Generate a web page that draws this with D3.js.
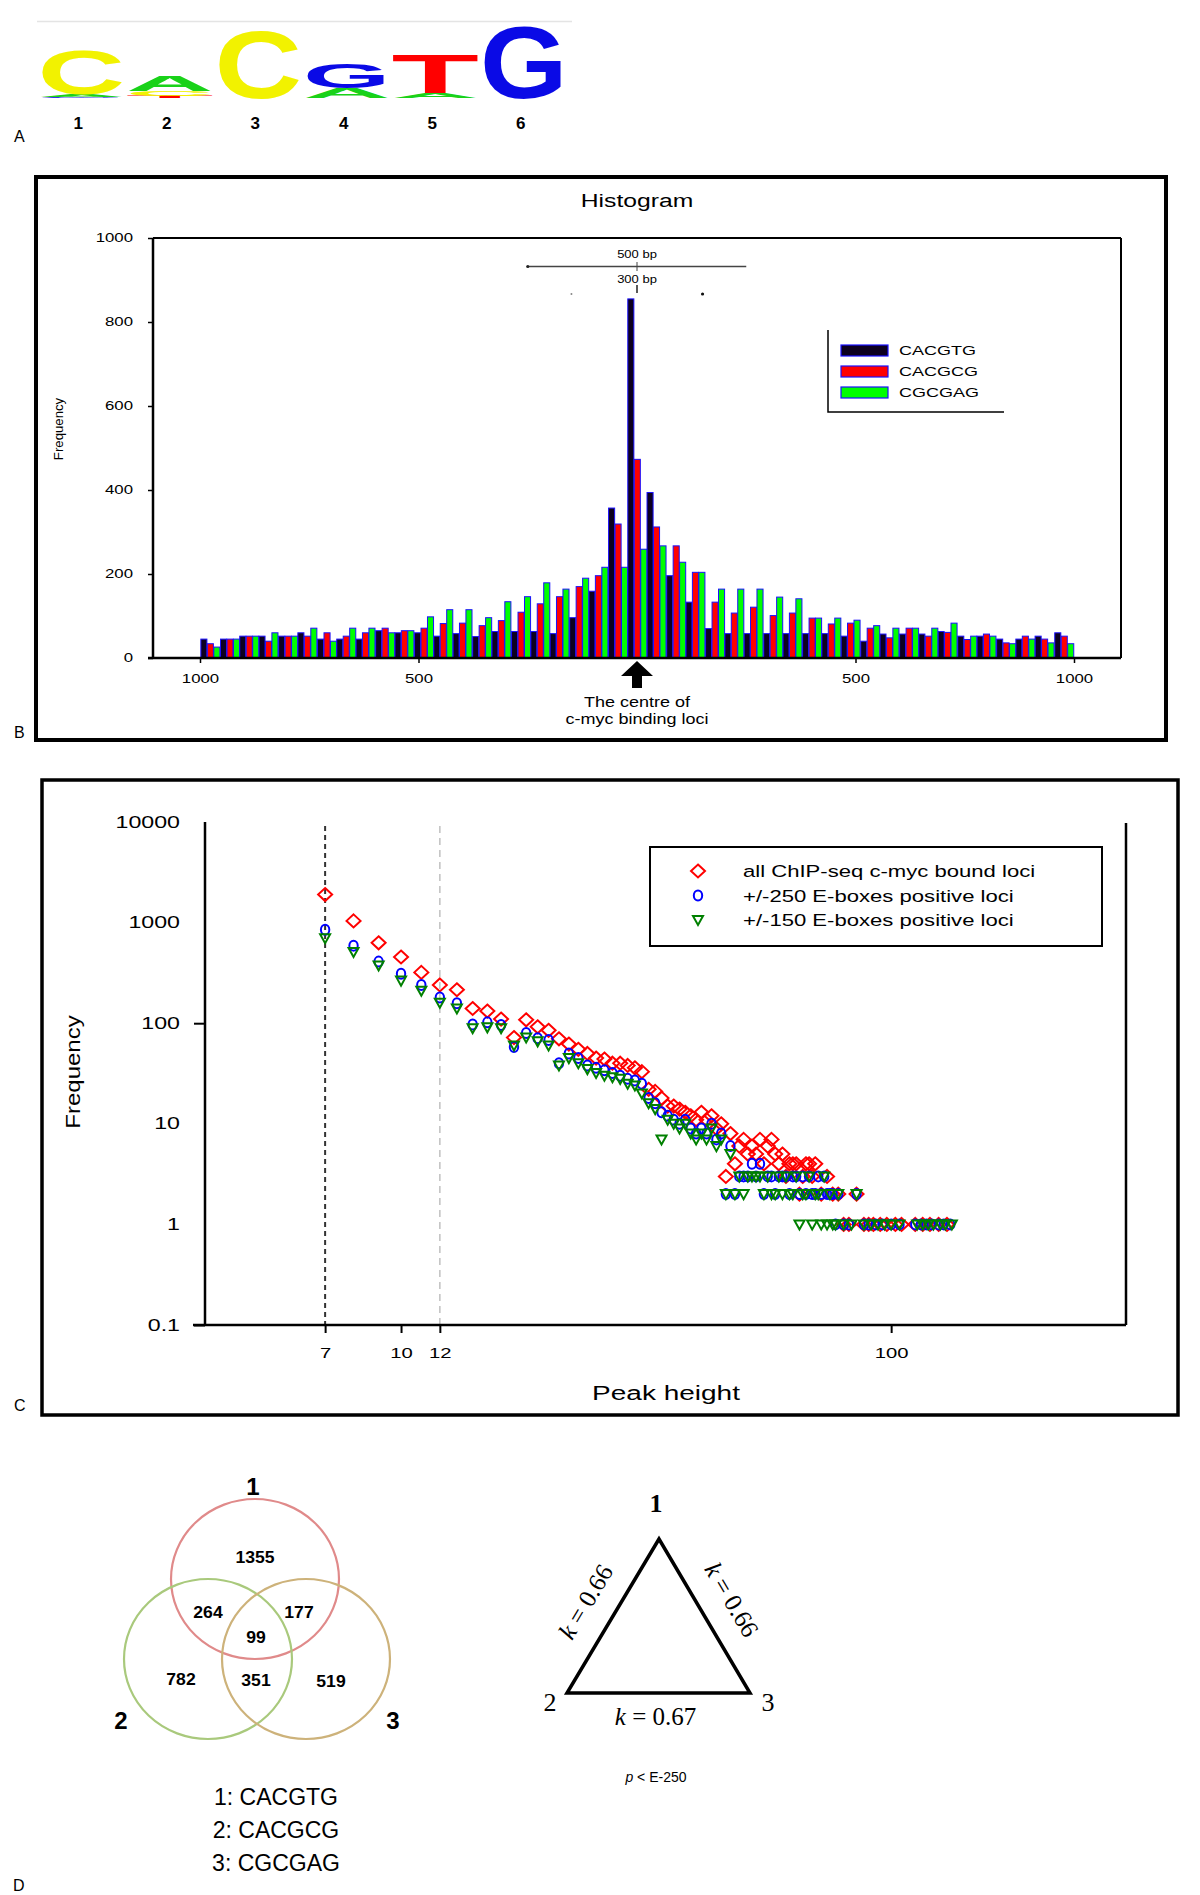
<!DOCTYPE html>
<html><head><meta charset="utf-8">
<script src="https://cdn.jsdelivr.net/npm/d3@7"></script>
<style>body{margin:0;background:#fff}svg{display:block}</style>
</head><body>
<svg id="fig" width="1200" height="1895"></svg>
<script>
// ---------------- DATA ----------------
// Panel A: sequence logo (bits per letter, stacked bottom->top)
const logoPositions = ["1","2","3","4","5","6"];
const logoStacks = [
  [["G",0.04],["A",0.08],["C",1.22]],
  [["T",0.06],["C",0.14],["A",0.43]],
  [["C",1.86]],
  [["A",0.28],["G",0.70]],
  [["A",0.13],["T",1.08]],
  [["G",1.98]]
];
// Panel B: histogram of motif distance to c-myc binding centre
const histBins = [-977,-932,-888,-844,-799,-755,-710,-666,-622,-577,-533,-488,-444,-400,-355,-311,-266,-222,-178,-133,-89,-44,0,44,89,133,178,222,266,311,355,400,444,488,533,577,622,666,710,755,799,844,888,932,977];
const histCACGTG = [45,45,52,52,52,60,45,45,45,65,60,60,52,58,51,63,63,63,58,96,159,357,855,394,196,133,70,58,58,58,58,58,58,52,40,57,57,57,63,52,52,45,45,52,60];
const histCACGCG = [34,45,52,40,52,52,60,52,60,71,65,71,82,83,77,89,109,129,146,170,196,319,473,312,267,204,133,107,121,101,107,95,81,83,71,48,71,52,61,44,57,36,52,45,52];
const histCGCGAG = [26,45,52,60,52,71,40,71,71,60,65,98,115,115,96,134,146,179,164,190,216,216,259,267,228,204,164,164,164,145,141,95,95,90,77,71,71,71,83,52,52,34,45,36,34];
const histSeries = ["CACGTG","CACGCG","CGCGAG"];
const histYTicks = [0,200,400,600,800,1000];
const histXTicks = [-1000,-500,500,1000];
const histXTickLabels = ["1000","500","500","1000"];
// Panel C: frequency vs peak height (log-log)
const allLoci = [[7,1900],[8,1040],[9,630],[10,455],[11,320],[12,240],[13,215],[14,140],[15,132],[16,110],[17,72],[18,108],[19,92],[20,85],[21,70],[22,62],[23,55],[24,50],[25,45],[26,44],[27,40],[28,40],[29,38],[30,36],[31,33],[32,22],[33,21],[34,18],[35,15],[36,15],[37,14],[38,13],[39,12],[40,11],[41,13],[42,11],[43,12],[44,9],[45,10],[46,3],[47,8],[48,4],[49,6],[50,7],[51,5],[52,6],[53,5],[54,7],[55,4],[56,6],[57,7],[58,5],[59,4],[60,5],[61,3],[62,4],[63,4],[64,4],[65,2],[66,3],[67,4],[68,4],[69,3],[70,4],[72,2],[74,3],[76,2],[78,2],[80,1],[82,1],[85,2],[88,1],[90,1],[92,1],[95,1],[98,1],[102,1],[105,1],[112,1],[116,1],[120,1],[125,1],[130,1]];
const eb250 = [[7,850],[8,590],[9,410],[10,310],[11,240],[12,180],[13,158],[14,97],[15,102],[16,96],[17,58],[18,80],[19,71],[20,68],[21,40],[22,50],[23,45],[24,38],[25,36],[26,34],[27,32],[28,30],[29,28],[30,27],[31,25],[32,18],[33,16],[34,13],[35,12],[36,11],[37,10],[38,11],[39,9],[40,8],[41,9],[42,8],[43,10],[44,7],[45,8],[46,2],[47,6],[48,2],[49,3],[50,3],[51,3],[52,4],[53,3],[54,4],[55,2],[56,3],[57,3],[58,2],[59,3],[60,3],[61,3],[62,2],[63,3],[64,3],[65,2],[66,3],[67,2],[68,3],[69,2],[70,2],[71,3],[72,2],[73,3],[74,2],[75,2],[76,2],[77,1],[78,2],[80,1],[82,1],[85,2],[88,1],[90,1],[93,1],[96,1],[100,1],[104,1],[112,1],[115,1],[118,1],[121,1],[125,1],[128,1],[132,1]];
const eb150 = [[7,700],[8,510],[9,375],[10,265],[11,210],[12,160],[13,140],[14,89],[15,91],[16,89],[17,60],[18,72],[19,66],[20,60],[21,38],[22,45],[23,40],[24,35],[25,32],[26,30],[27,29],[28,28],[29,25],[30,24],[31,20],[32,16],[33,14],[34,7],[35,11],[36,10],[37,9],[38,10],[39,8],[40,7],[41,8],[42,7],[43,9],[44,6],[45,7],[46,2],[47,5],[48,2],[49,3],[50,2],[51,3],[52,3],[53,3],[54,3],[55,2],[56,3],[57,2],[58,2],[59,3],[60,2],[61,3],[62,2],[63,2],[64,3],[65,1],[66,2],[67,2],[68,3],[69,1],[70,2],[71,2],[72,1],[73,3],[74,1],[75,2],[76,1],[77,1],[78,2],[80,1],[83,1],[85,2],[88,1],[91,1],[94,1],[97,1],[100,1],[104,1],[113,1],[116,1],[119,1],[122,1],[126,1],[129,1],[133,1]];
const scatterLabels = ["all ChIP-seq c-myc bound loci","+/-250 E-boxes positive loci","+/-150 E-boxes positive loci"];
const scatterYTicks = [0.1,1,10,100,1000,10000];
const scatterYTickLabels = ["0.1","1","10","100","1000","10000"];
const scatterYTickMarks = [0.1,100];
const scatterXTicks = [7,10,12,100];
const cutoffs = [7,12];
// Panel D
const vennSets = ["1","2","3"];
const vennRegions = [["1355","1"],["264","12"],["177","13"],["99","123"],["782","2"],["351","23"],["519","3"]];
const motifNames = ["1: CACGTG","2: CACGCG","3: CGCGAG"];
const kappaEdges = [["1","2","k = 0.66"],["1","3","k = 0.66"],["2","3","k = 0.67"]];
const pValueText = "p < E-250";

// ---------------- HELPERS ----------------
const svg = d3.select("#fig");
const SANS = "'Liberation Sans', Arial, sans-serif";
const SERIF = "'Liberation Serif', 'Times New Roman', serif";
function txt(g, x, y, s, o = {}) {
  let tr = `translate(${x},${y})`;
  if (o.rot) tr += ` rotate(${o.rot})`;
  if (o.sx) tr += ` scale(${o.sx},1)`;
  return g.append("text").attr("transform", tr)
    .attr("text-anchor", o.anchor || "start")
    .attr("font-size", o.size || 14)
    .attr("font-family", o.family || SANS)
    .attr("font-weight", o.weight || "normal")
    .attr("font-style", o.style || "normal")
    .attr("fill", o.fill || "#000")
    .text(s);
}
svg.append("rect").attr("width",1200).attr("height",1895).attr("fill","#fff");

// ---------------- PANEL A: logo ----------------
const gA = svg.append("g");
const logoColor = {A:"#19d219", C:"#f2f200", G:"#0a0ae6", T:"#ff0000"};
const xA = d3.scaleBand().domain(logoPositions).range([37, 568]);
const yA = d3.scaleLinear().domain([0, 2]).range([98, 24]);
gA.append("line").attr("x1",37).attr("x2",572).attr("y1",21.5).attr("y2",21.5).attr("stroke","#e4e4e4").attr("stroke-width",1.5);
logoStacks.forEach((stack, i) => {
  let base = 0;
  stack.forEach(([letter, h]) => {
    const x0 = xA(logoPositions[i]), w = xA.bandwidth();
    const yBot = yA(base), yTop = yA(base + h);
    const t = gA.append("text").attr("font-family", SANS).attr("font-weight","bold")
      .attr("font-size",100).attr("fill", logoColor[letter]).text(letter);
    const adv = t.node().getComputedTextLength();
    const capH = 72;
    const sxL = (w - 1) / adv, syL = (yBot - yTop) / capH;
    t.attr("text-anchor","middle")
     .attr("transform", `translate(${x0 + w/2},${yBot}) scale(${sxL},${syL})`);
    base += h;
  });
});
logoPositions.forEach(p => txt(gA, xA(p) + xA.bandwidth()/2 - 3, 129, p, {anchor:"middle", size:17, weight:"bold"}));
txt(gA, 14, 142, "A", {size:16});

// ---------------- PANEL B: histogram ----------------
const gB = svg.append("g");
gB.append("rect").attr("x",36).attr("y",177).attr("width",1130).attr("height",563)
  .attr("fill","none").attr("stroke","#000").attr("stroke-width",4);
txt(gB, 14, 738, "B", {size:16});
const xB = d3.scaleLinear().domain([-1000, 1000]).range([200, 1074]);
const yB = d3.scaleLinear().domain([0, 1000]).range([658, 238]);
const binW = 44.4;
// frame
gB.append("line").attr("x1",153).attr("x2",1121).attr("y1",238).attr("y2",238).attr("stroke","#000").attr("stroke-width",2);
gB.append("line").attr("x1",1121).attr("x2",1121).attr("y1",238).attr("y2",658).attr("stroke","#000").attr("stroke-width",2);
// bars
const histAll = [histCACGTG, histCACGCG, histCGCGAG];
const barFill = ["#0c0020","#ff0000","#00ff00"];
histAll.forEach((vals, k) => {
  gB.append("g").selectAll("rect").data(histBins).join("rect")
    .attr("x", (c) => xB(c - binW/2) + k * (xB(binW) - xB(0)) / 3 + 0.5)
    .attr("width", (xB(binW) - xB(0)) / 3 - 0.4)
    .attr("y", (c, i) => yB(vals[i]))
    .attr("height", (c, i) => yB(0) - yB(vals[i]))
    .attr("fill", barFill[k]).attr("stroke", "#1a10ff").attr("stroke-width", 1);
});
// axes
const axYB = gB.append("g").attr("transform","translate(153,0)")
  .call(d3.axisLeft(yB).tickValues(histYTicks).tickSize(5).tickFormat(d3.format("d")));
axYB.select(".domain").attr("stroke-width",2.5).attr("d","M0,658V238");
axYB.selectAll(".tick line").attr("stroke-width",1.5);
axYB.selectAll("text").attr("font-family",SANS).attr("font-size",12).attr("x",-20/1.4).attr("transform","scale(1.4,1)");
const axXB = gB.append("g").attr("transform","translate(0,658)")
  .call(d3.axisBottom(xB).tickValues(histXTicks).tickSize(5).tickFormat((d,i)=>histXTickLabels[i]));
axXB.select(".domain").attr("stroke-width",2.5).attr("d","M148,0H1121");
axXB.selectAll(".tick line").attr("stroke-width",1.5);
axXB.selectAll("text").attr("font-family",SANS).attr("font-size",12).attr("y",16).attr("x",0).attr("transform","scale(1.4,1)");
txt(gB, 637, 207, "Histogram", {anchor:"middle", size:19, sx:1.3});
txt(gB, 63, 429, "Frequency", {anchor:"middle", size:12, rot:-90, sx:1.1});
// bracket annotations
gB.append("line").attr("x1",xB(-250)).attr("x2",xB(250)).attr("y1",266.5).attr("y2",266.5).attr("stroke","#444").attr("stroke-width",1.5);
gB.append("circle").attr("cx",xB(-250)).attr("cy",266.5).attr("r",1.6).attr("fill","#222");
gB.append("line").attr("x1",xB(0)).attr("x2",xB(0)).attr("y1",262).attr("y2",271).attr("stroke","#444").attr("stroke-width",1);
gB.append("line").attr("x1",xB(0)).attr("x2",xB(0)).attr("y1",285).attr("y2",293).attr("stroke","#222").attr("stroke-width",1.5);
gB.append("circle").attr("cx",xB(-150)).attr("cy",294).attr("r",1).attr("fill","#888");
gB.append("circle").attr("cx",xB(150)).attr("cy",294).attr("r",1.6).attr("fill","#111");
txt(gB, xB(0), 258, "500 bp", {anchor:"middle", size:10, sx:1.3});
txt(gB, xB(0), 283, "300 bp", {anchor:"middle", size:10, sx:1.3});
// arrow at centre
const ax0 = xB(0);
gB.append("path").attr("d", `M${ax0},661 L${ax0+16},676 L${ax0+5},676 L${ax0+5},688 L${ax0-5},688 L${ax0-5},676 L${ax0-16},676 Z`).attr("fill","#000");
txt(gB, ax0, 707, "The centre of", {anchor:"middle", size:15, sx:1.2});
txt(gB, ax0, 724, "c-myc binding loci", {anchor:"middle", size:15, sx:1.2});
// legend
gB.append("path").attr("d","M828,330V412H1004").attr("fill","none").attr("stroke","#000").attr("stroke-width",1.5);
histSeries.forEach((s, k) => {
  const yy = 350 + k * 21;
  gB.append("rect").attr("x",841).attr("y",yy-5).attr("width",47).attr("height",11)
    .attr("fill",barFill[k]).attr("stroke","#1a10ff").attr("stroke-width",1.2);
  txt(gB, 899, yy + 5, s, {size:12, sx:1.5});
});

// ---------------- PANEL C: scatter ----------------
const gC = svg.append("g");
gC.append("rect").attr("x",42).attr("y",780).attr("width",1136).attr("height",635)
  .attr("fill","none").attr("stroke","#000").attr("stroke-width",3.5);
txt(gC, 14, 1411, "C", {size:16});
const xC = d3.scaleLog().domain([4, 300]).range([206, 1125]);
const yC = d3.scaleLog().domain([0.1, 10000]).range([1325, 822]);
gC.append("line").attr("x1",1126).attr("x2",1126).attr("y1",823).attr("y2",1325).attr("stroke","#000").attr("stroke-width",2.5);
// cutoff lines
cutoffs.forEach((c, i) => {
  gC.append("line").attr("x1",xC(c)).attr("x2",xC(c)).attr("y1",826).attr("y2",1325)
    .attr("stroke", i === 0 ? "#333" : "#c4c4c4").attr("stroke-width", i === 0 ? 2 : 1.6)
    .attr("stroke-dasharray", i === 0 ? "5,4" : "7,5");
});
const axYC = gC.append("g").attr("transform","translate(205,0)")
  .call(d3.axisLeft(yC).tickValues(scatterYTicks).tickSize(11).tickFormat((d,i)=>scatterYTickLabels[i]));
axYC.select(".domain").attr("stroke-width",2.5).attr("d","M0,1325V822");
axYC.selectAll(".tick line").attr("stroke-width",2).attr("opacity", d => scatterYTickMarks.includes(d) ? 1 : 0);
axYC.selectAll("text").attr("font-family",SANS).attr("font-size",16).attr("x",-25/1.45).attr("transform","scale(1.45,1)");
const axXC = gC.append("g").attr("transform","translate(0,1325)")
  .call(d3.axisBottom(xC).tickValues(scatterXTicks).tickSize(8).tickFormat(d3.format("d")));
axXC.select(".domain").attr("stroke-width",2.5).attr("d","M193,0H1126");
axXC.selectAll(".tick line").attr("stroke-width",2);
axXC.selectAll("text").attr("font-family",SANS).attr("font-size",15).attr("y",22).attr("transform","scale(1.35,1)");
txt(gC, 666, 1400, "Peak height", {anchor:"middle", size:20, sx:1.4});
txt(gC, 80, 1072, "Frequency", {anchor:"middle", size:20, rot:-90, sx:1.2});
// markers
const markerPath = [
  "M0,-6.5L7,0L0,6.5L-7,0Z",
  "M0,-5A4.2,5 0 1,1 0,5A4.2,5 0 1,1 0,-5Z",
  "M-5,-4L5,-4L0,5Z"
];
const markerColor = ["#ff0000","#0000ff","#008000"];
[allLoci, eb250, eb150].forEach((ser, k) => {
  gC.append("g").selectAll("path").data(ser).join("path")
    .attr("d", markerPath[k])
    .attr("transform", d => `translate(${xC(d[0])},${yC(d[1])})`)
    .attr("fill","none").attr("stroke",markerColor[k]).attr("stroke-width",2);
});
// legend
gC.append("rect").attr("x",650).attr("y",847).attr("width",452).attr("height",99)
  .attr("fill","#fff").attr("stroke","#000").attr("stroke-width",2);
scatterLabels.forEach((s, k) => {
  const yy = 871 + k * 24.5;
  gC.append("path").attr("d", markerPath[k]).attr("transform",`translate(698,${yy})`)
    .attr("fill","none").attr("stroke",markerColor[k]).attr("stroke-width",2);
  txt(gC, 743, yy + 6, s, {size:17, sx:1.3});
});

// ---------------- PANEL D: Venn + kappa triangle ----------------
const gD = svg.append("g");
txt(gD, 13, 1891, "D", {size:16});
const vennCenter = {"1":[255,1579], "2":[208,1659], "3":[306,1659]};
const vennStroke = {"1":"#e08a8a", "2":"#a9c97c", "3":"#cdb27a"};
vennSets.forEach(s => {
  gD.append("ellipse").attr("cx",vennCenter[s][0]).attr("cy",vennCenter[s][1])
    .attr("rx",84).attr("ry",80).attr("fill","none").attr("stroke",vennStroke[s]).attr("stroke-width",2.2);
});
const regionPos = {"1":[255,1563],"12":[208,1618],"13":[299,1618],"123":[256,1643],"2":[181,1685],"23":[256,1686],"3":[331,1687]};
vennRegions.forEach(([v, r]) => txt(gD, regionPos[r][0], regionPos[r][1], v, {anchor:"middle", size:16, weight:"bold", sx:1.1}));
const vennLabelPos = {"1":[253,1495], "2":[121,1729], "3":[393,1729]};
vennSets.forEach(s => txt(gD, vennLabelPos[s][0], vennLabelPos[s][1], s, {anchor:"middle", size:24, weight:"bold"}));
motifNames.forEach((m, i) => txt(gD, 276, 1805 + i * 33, m, {anchor:"middle", size:23}));
// triangle
const triPt = {"1":[659,1539], "2":[567,1693], "3":[750,1693]};
gD.append("path").attr("d", `M${triPt["1"]}L${triPt["2"]}L${triPt["3"]}Z`)
  .attr("fill","none").attr("stroke","#000").attr("stroke-width",3.5).attr("stroke-linejoin","miter");
txt(gD, 656, 1512, "1", {anchor:"middle", size:26, weight:"bold", family:SERIF});
txt(gD, 550, 1711, "2", {anchor:"middle", size:26, family:SERIF});
txt(gD, 768, 1711, "3", {anchor:"middle", size:26, family:SERIF});
kappaEdges.forEach(([a, b, lab]) => {
  const [x1,y1] = triPt[a], [x2,y2] = triPt[b];
  let ang = Math.atan2(y2-y1, x2-x1) * 180 / Math.PI;
  let mx = (x1+x2)/2, my = (y1+y2)/2;
  let t;
  if (a === "2" && b === "3") {
    t = gD.append("text").attr("transform",`translate(${mx-3},${my+32})`);
  } else if (b === "2") {
    t = gD.append("text").attr("transform",`translate(${mx-20},${my-10}) rotate(${ang+180})`);
  } else {
    t = gD.append("text").attr("transform",`translate(${mx+20},${my-12}) rotate(${ang})`);
  }
  t.attr("text-anchor","middle").attr("font-family",SERIF).attr("font-size",25);
  t.append("tspan").attr("font-style","italic").text("k");
  t.append("tspan").text(lab.slice(1));
});
const pt = gD.append("text").attr("transform","translate(656,1782)").attr("text-anchor","middle")
  .attr("font-family",SANS).attr("font-size",14);
pt.append("tspan").attr("font-style","italic").text("p");
pt.append("tspan").text(pValueText.slice(1));
</script>
</body></html>
